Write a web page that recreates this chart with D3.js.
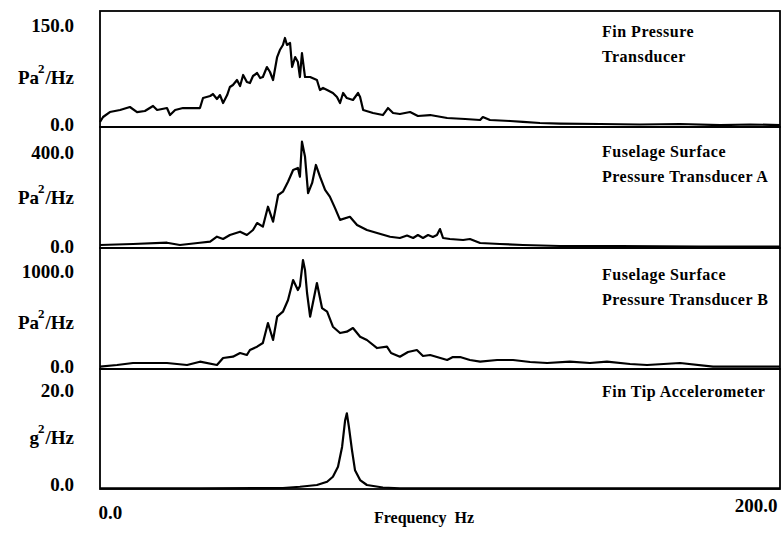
<!DOCTYPE html>
<html>
<head>
<meta charset="utf-8">
<script src="https://cdn.jsdelivr.net/npm/d3@7"></script>
<style>
  html, body { margin: 0; padding: 0; background: #fff; }
  svg { display: block; }
  text { font-family: "Liberation Serif", "Times New Roman", serif; font-weight: bold; fill: #000; }
</style>
</head>
<body>
<svg id="chart" width="783" height="536"></svg>
<script>
// ---------------- DATA ----------------
const xTicks = [0, 200];
const xLabel = "Frequency  Hz";

const yMaxValues = [150, 400, 1000, 20];
const unitBases = ["Pa", "Pa", "Pa", "g"];

const titles = [
  ["Fin Pressure", "Transducer"],
  ["Fuselage Surface", "Pressure Transducer A"],
  ["Fuselage Surface", "Pressure Transducer B"],
  ["Fin Tip Accelerometer"]
];

// Panel 1: Fin Pressure Transducer (Pa^2/Hz)
const freq1 = [0,0.9,2.9,5.9,8.8,10.9,13.2,15.6,16.8,19.7,20.6,22.1,24.4,29.4,30.3,32.4,33.2,34.4,35.3,36.2,37.4,38.2,39.1,40.3,41.2,42.1,43.2,44.1,45,46.2,47.1,47.9,49.1,50,50.9,52.1,52.9,53.8,54.4,55,55.9,56.5,57.4,58.2,58.8,59.4,60.3,61.8,63.8,64.7,65.6,66.8,68.5,69.7,70.6,71.5,72.6,74.4,75.9,76.5,77.4,80.3,83.2,84.7,86.2,88.2,91.2,93.5,97.1,102.1,107.4,111.8,112.6,114.7,120.6,124.4,129.4,135.3,147.1,158.8,170.6,182.4,191.2,200];
const psd1  = [7.4,14.7,22,25,29.4,22,23.5,30.9,25,27.9,17.6,25,27.9,27.9,42.6,45.6,48.5,41.2,47,35.3,47,58.8,61.8,69.1,60.3,76.5,66.2,64.7,75,79.4,72,73.5,88.2,80.9,69.1,102.9,113.2,120.6,130.9,120.6,123.5,88.2,102.9,95.6,73.5,108.8,73.5,73.5,69.1,54.4,57.4,54.4,50,44.1,35.3,50,42.6,39.7,50,44.1,25,20.6,17.6,27.9,20.6,19.1,22,16.2,17.6,13.2,11.8,10.3,14.7,10.3,8.8,7.4,5.9,5.1,4.4,3.7,4.4,2.9,3.7,2.9];

// Panel 2: Fuselage Surface Pressure Transducer A (Pa^2/Hz)
const freq2 = [0,9.7,19.7,23.5,29.4,32.4,34.4,36.2,38.2,41.2,43.2,45,46.2,47.9,49.4,50.9,52.4,53.8,55.3,56.8,58.2,58.8,59.4,60.3,61.2,62.4,63.5,64.7,66.2,67.6,69.1,70.6,73.5,75.6,78.5,81.5,85.3,88.2,90.3,92.1,93.5,95,96.5,97.9,99.1,100,100.9,102.9,106.8,108.8,111.8,117.6,124.4,135.3,152.9,176.5,200];
const psd2  = [12.5,16.7,22,12.5,22,26.3,47,37.5,54.2,67.9,54.2,75,104,88.8,172,109.6,220.8,234.6,276,325,333.3,297,442.9,380,229,271,346,297,242,214,167,117,130,96,75,62.5,47,41.7,52,41.7,54,41.7,54,45.8,54,79,41.7,37.5,33.3,37.5,20.8,16.7,12.5,8.3,8.3,6.3,6.3];

// Panel 3: Fuselage Surface Pressure Transducer B (Pa^2/Hz)
const freq3 = [0,5,9.7,19.7,25.6,29.4,34.4,36.2,39.1,41.2,43.2,44.1,46.2,47.9,49.4,50.9,52.1,53.8,55.3,56.8,58.2,58.8,59.7,60.3,60.9,61.8,63.8,65.3,66.8,68.5,70.6,72.6,74.4,76.5,78.5,81.5,84.4,85.6,88.2,90.6,93.2,95,97.1,99.1,102.1,103.8,105.9,108.8,111.8,116.8,121.5,126.5,131.5,138.2,144.1,149.1,155.9,160.9,170.6,180.3,200];
const psd3  = [23.5,40.8,61.2,61.2,40.8,74.5,40.8,112,125.5,163,143,194,227.6,265,469,296,533.7,584.7,704,908,806,847,1112,1010,775.5,533.7,877.6,622,584.7,431.6,367,380.6,418,329.6,296,214,227.6,163,125.5,173,194,133,143,122,91.8,122,122,91.8,74.5,91.8,91.8,71.4,61.2,74.5,61.2,74.5,51,40.8,61.2,23.5,23.5];

// Panel 4: Fin Tip Accelerometer (g^2/Hz)
const freq4 = [0,29.4,53.8,58.8,63.8,66.8,68.5,70,71.2,72.1,72.6,73.2,74.1,75,76.5,78.5,83.2,88.2,200];
const psd4  = [0.14,0.14,0.2,0.46,0.81,1.47,2.48,4.5,8.5,13.9,15.3,12.6,7.9,3.8,1.8,0.81,0.3,0.14,0.14];

const seriesFreq = [freq1, freq2, freq3, freq4];
const seriesPsd  = [psd1, psd2, psd3, psd4];

// ---------------- LAYOUT ----------------
const svg = d3.select("#chart");
const left = 100, right = 780;
const panels = [
  { top: 11,  bottom: 127, maxY: 25,  zeroShift: -2.5 },
  { top: 127, bottom: 248, maxY: 152, zeroShift: -2 },
  { top: 248, bottom: 369, maxY: 271, zeroShift: -3 },
  { top: 369, bottom: 489, maxY: 390, zeroShift: -5 }
];
const unitBaselines = [84, 204, 329, 444];
const titleBaselines = [[37, 62], [157, 182], [280, 305], [397]];

const x = d3.scaleLinear().domain([0, 200]).range([left, right]);

panels.forEach((p, i) => {
  const y = d3.scaleLinear().domain([0, yMaxValues[i]]).range([p.bottom, p.maxY]);

  // frame
  svg.append("rect")
    .attr("x", left).attr("y", p.top)
    .attr("width", right - left).attr("height", p.bottom - p.top)
    .attr("fill", "none").attr("stroke", "#000").attr("stroke-width", 1.8);

  // curve
  const line = d3.line().x(d => x(d[0])).y(d => y(d[1]));
  const pts = seriesFreq[i].map((f, k) => [f, seriesPsd[i][k]]);
  svg.append("path")
    .attr("d", line(pts))
    .attr("fill", "none").attr("stroke", "#000")
    .attr("stroke-width", 2.2).attr("stroke-linejoin", "round");

  // y axis labels
  const ax = svg.append("g")
    .attr("transform", `translate(${left},0)`)
    .call(d3.axisLeft(y).tickValues([0, yMaxValues[i]]).tickSize(0).tickPadding(26).tickFormat(d3.format(".1f")));
  ax.select(".domain").remove();
  ax.selectAll("text")
    .attr("font-family", "Liberation Serif, serif")
    .attr("font-weight", "bold")
    .attr("font-size", 19)
    .attr("fill", "#000")
    .attr("transform", d => d === 0 ? `translate(0,${p.zeroShift})` : null);

  // unit label
  const u = svg.append("text")
    .attr("x", 74).attr("y", unitBaselines[i])
    .attr("text-anchor", "end").attr("font-size", 19);
  u.append("tspan").text(unitBases[i]);
  u.append("tspan").attr("font-size", 13).attr("dy", -11).attr("dx", -1).text("2");
  u.append("tspan").attr("dy", 11).attr("dx", 1).text("/Hz");

  // title
  titles[i].forEach((t, k) => {
    svg.append("text")
      .attr("x", 602).attr("y", titleBaselines[i][k])
      .attr("font-size", 16).attr("letter-spacing", 0.5)
      .text(t);
  });
});

// x axis labels
const xa = svg.append("g")
  .attr("transform", `translate(0,${panels[3].bottom})`)
  .call(d3.axisBottom(x).tickValues(xTicks).tickSize(0).tickFormat(d3.format(".1f")));
xa.select(".domain").remove();
xa.selectAll("text")
  .attr("font-family", "Liberation Serif, serif")
  .attr("font-weight", "bold")
  .attr("font-size", 19)
  .attr("fill", "#000")
  .attr("dy", null)
  .attr("text-anchor", d => d === 0 ? "start" : "end")
  .attr("x", d => d === 0 ? -2 : -3)
  .attr("y", d => d === 0 ? 30 : 23);

svg.append("text")
  .attr("x", 374).attr("y", 523)
  .attr("font-size", 16)
  .attr("xml:space", "preserve")
  .style("white-space", "pre")
  .text(xLabel);
</script>
</body>
</html>
